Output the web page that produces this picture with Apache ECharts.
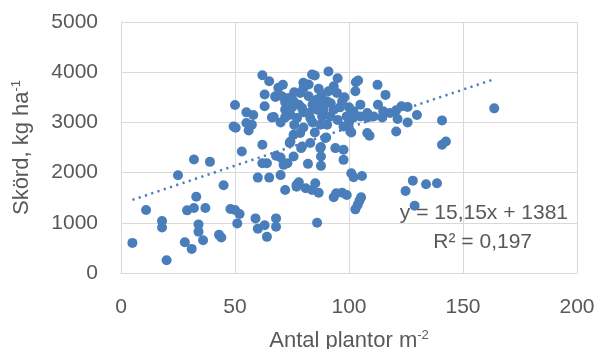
<!DOCTYPE html>
<html>
<head>
<meta charset="utf-8">
<script src="https://cdn.jsdelivr.net/npm/echarts@6/dist/echarts.min.js"></script>
<style>html,body{margin:0;padding:0;background:#fff}#c{width:597px;height:349px}</style>
</head>
<body>
<div id="c"></div>
<script>
// Plant count (x) and yield (y) readings
const plantsX = [
  5,11,18,18,20,25,28,29,31,32,32,33,34,34,36,37,39,43,44,45,48,50,52,51,53,62,60,65,70,59,60,63,64,68,68,72,77,78,81,62,64,68,70,73,74,79,82,
  62,65,63,50,63,67,55,58,55,56,49.4,50.3,69,71,80,67.7,
  91,85,95,103,104,112.5,116,102.8,125.7,120.7,129.8,112.7,121.3,125.7,140.8,163.7,120.7,108,109,101,90,140.8,142.5,
  128,133.8,138.6,124.8,128.8,101,102,105.7,86,93.3,94.4,97,99,102.8,103.8,104.6,105.3,97.6,97.6,94,87.7,87.7,87.7,85.2,86.7,83.8,77,
  83.8,82.3,86.7,67.7,70.6,73.5,78.6,75.7,82.3,86,79.4,72,74.3,82.3,86,
  91,93.3,94.7,90.4,97,105,88.9,93.3,102,108,115,118,88.2,91.8,99,105,110.8,123,
  66.2,72,77.2,83,87.4,57.4,75.7,78.6,74.3,79.4,83,87.4,75.7,71.3,
  90.4,97.6,100.6,89.6,102,108,114.6,
  75,78,80,84,88,92,96,98,76,80,85,70,95,100,84,76,88,72,80,100
];
const yieldY = [
  600,1254,1034,908,254,1948,614,1248,480,2260,1294,1520,968,820,654,1294,2214,760,708,1748,1274,1254,1174,988,2420,2554,1900,1900,1950,1088,880,950,720,1088,920,1654,1720,1808,1688,2188,2188,2334,2300,2188,2588,2488,2174,
  3940,3820,3554,3348,3320,3108,3200,3148,2988,2840,2920,2894,3688,3750,3788,3508,
  4014,3934,3880,3800,3834,3748,3548,3620,3308,3240,3148,3354,3068,3000,3040,3280,2820,2788,2734,2800,2700,2554,2620,
  1840,1768,1788,1634,1340,1988,1908,1934,1000,1508,1588,1600,1554,1268,1354,1440,1508,2254,2454,2488,2320,2134,2508,1788,1600,1654,1754,
  3954,3754,3668,3520,3520,3488,3588,3420,3520,3454,3288,3254,3154,3188,3254,
  3620,3720,3588,3420,3420,3354,3254,3254,3220,3188,3220,3188,3120,3120,3120,3120,3120,3320,
  3100,3100,3088,3088,2954,2954,2754,2788,2620,2520,2588,2488,2320,2154,
  2954,2920,2820,2688,3100,3100,3100,
  3300,3350,3200,3350,3400,3380,3300,3500,2950,2900,2800,3000,3050,3000,3000,3600,3550,3400,3680,3300
];
const xTicks = [0, 50, 100, 150, 200];
const yTicks = [0, 1000, 2000, 3000, 4000, 5000];
const slope = 15.15, intercept = 1381;
const eqText = 'y = 15,15x + 1381';
const r2Text = 'R² = 0,197';

const points = plantsX.map((x, i) => [x, yieldY[i]]);
const xMin = Math.min(...plantsX), xMax = Math.max(...plantsX);
const trend = [[xMin, slope * xMin + intercept], [xMax, slope * xMax + intercept]];

const FONT = 'Liberation Sans';
const TXT = '#595959';
const GRID = '#d9d9d9';

const chart = echarts.init(document.getElementById('c'), null, {renderer: 'canvas'});
chart.setOption({
  animation: false,
  grid: {left: 121, right: 20, top: 22, bottom: 76, containLabel: false, outerBoundsMode: 'none'},
  xAxis: {
    type: 'value', min: xTicks[0], max: xTicks[xTicks.length - 1], interval: 50,
    axisLine: {show: true, lineStyle: {color: GRID, width: 1}},
    axisTick: {show: false},
    splitLine: {show: true, lineStyle: {color: GRID, width: 1}},
    axisLabel: {color: TXT, fontFamily: FONT, fontSize: 21, margin: 24, formatter: v => String(v)},
    name: 'Antal plantor m{sup|-2}',
    nameLocation: 'middle', nameGap: 56,
    nameTextStyle: {color: TXT, fontFamily: FONT, fontSize: 22,
      rich: {sup: {fontSize: 13, verticalAlign: 'top', color: TXT, fontFamily: FONT, padding: [0,0,10,0]}}}
  },
  yAxis: {
    type: 'value', min: yTicks[0], max: yTicks[yTicks.length - 1], interval: 1000,
    axisLine: {show: true, lineStyle: {color: GRID, width: 1}},
    axisTick: {show: false},
    splitLine: {show: true, lineStyle: {color: GRID, width: 1}},
    axisLabel: {color: TXT, fontFamily: FONT, fontSize: 21, margin: 23, formatter: v => String(v)},
    name: 'Skörd, kg ha{sup|-1}',
    nameLocation: 'middle', nameGap: 88, nameRotate: 90,
    nameTextStyle: {color: TXT, fontFamily: FONT, fontSize: 22,
      rich: {sup: {fontSize: 13, verticalAlign: 'top', color: TXT, fontFamily: FONT, padding: [0,0,10,0]}}}
  },
  series: [
    {
      type: 'scatter', data: points, symbol: 'circle', symbolSize: 10,
      itemStyle: {color: '#4a7ebb', opacity: 1}, z: 3
    },
    {
      type: 'line', data: trend, showSymbol: false, symbol: 'none',
      lineStyle: {color: '#4a7ebb', width: 2.5, type: [2.2, 4.4], cap: 'butt'}, z: 4
    }
  ],
  graphic: [
    {type: 'text', right: 597 - 568, top: 203, z: 10,
      style: {text: eqText, fill: TXT, font: '21px "Liberation Sans"', textAlign: 'right'}},
    {type: 'text', right: 597 - 532, top: 232, z: 10,
      style: {text: r2Text, fill: TXT, font: '21px "Liberation Sans"', textAlign: 'right'}}
  ]
});
</script>
</body>
</html>
